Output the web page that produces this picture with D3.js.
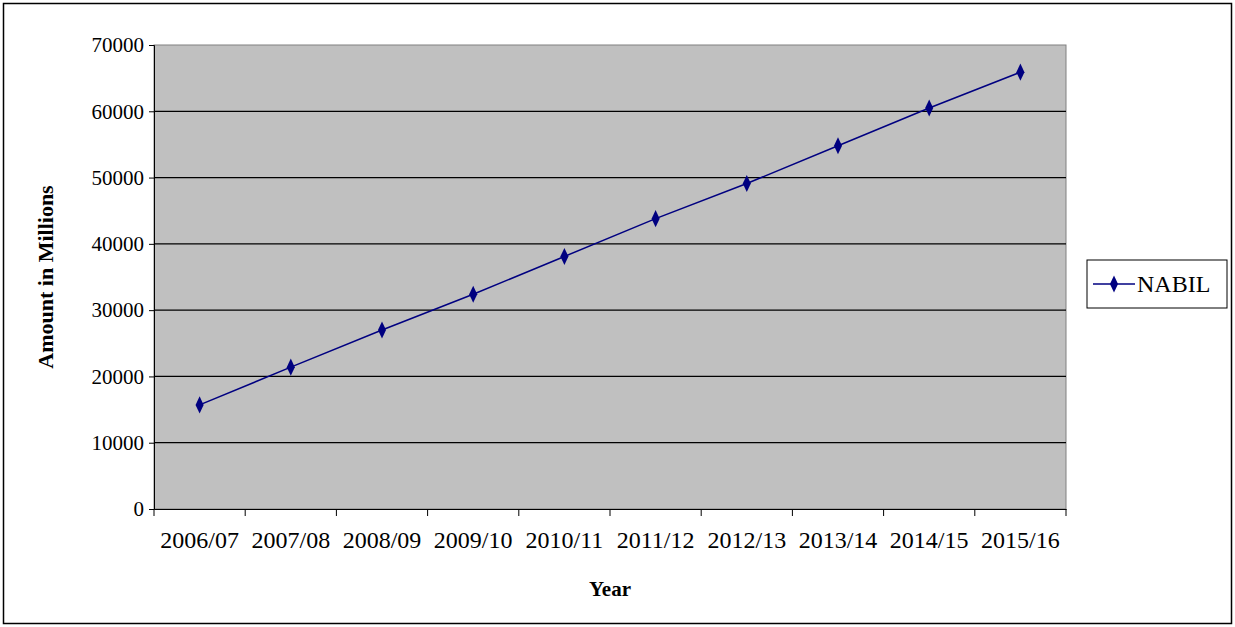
<!DOCTYPE html>
<html><head><meta charset="utf-8">
<script src="https://cdn.jsdelivr.net/npm/d3@7"></script>
<style>body{margin:0;background:#fff}text{font-family:"Liberation Serif","Times New Roman",serif;fill:#000}</style>
</head><body>
<script>
// chart data
var years = ["2006/07","2007/08","2008/09","2009/10","2010/11","2011/12","2012/13","2013/14","2014/15","2015/16"];
var nabil = [15700,21400,27000,32400,38100,43800,49100,54800,60500,65900];
var yTicks = [0,10000,20000,30000,40000,50000,60000,70000];

var W = 1235, H = 627;
var plot = {left:154, top:45, right:1066, bottom:509};

var svg = d3.select("body").append("svg").attr("width", W).attr("height", H);
svg.append("rect").attr("x",3.5).attr("y",3.5).attr("width",W-7).attr("height",H-7)
	.attr("fill","#fff").attr("stroke","#000").attr("stroke-width",1.5);

var x = d3.scaleBand().domain(years).range([plot.left, plot.right]);
var y = d3.scaleLinear().domain([0,70000]).range([plot.bottom, plot.top]);

svg.append("rect").attr("x",plot.left).attr("y",plot.top)
	.attr("width",plot.right-plot.left).attr("height",plot.bottom-plot.top)
	.attr("fill","#c0c0c0").attr("stroke","#808080");

// gridlines
svg.append("g").selectAll("line").data(yTicks.slice(1,-1)).join("line")
	.attr("x1",plot.left).attr("x2",plot.right)
	.attr("y1",function(d){return y(d);}).attr("y2",function(d){return y(d);})
	.attr("stroke","#000").attr("stroke-width",1.3);

var yAxis = svg.append("g").attr("transform","translate("+plot.left+",0)")
	.call(d3.axisLeft(y).tickValues(yTicks).tickSize(5).tickFormat(d3.format("d")));
var xAxis = svg.append("g").attr("transform","translate(0,"+plot.bottom+")")
	.call(d3.axisBottom(x).tickSize(0).tickPadding(22));
// category ticks at band edges
xAxis.selectAll(".edge").data(years.concat(["end"])).join("line")
	.attr("x1",function(d,i){return plot.left + i*x.step();})
	.attr("x2",function(d,i){return plot.left + i*x.step();})
	.attr("y1",0).attr("y2",7).attr("stroke","#000");
[yAxis,xAxis].forEach(function(a){
	a.selectAll(".domain,.tick line").attr("stroke","#000");
});
yAxis.selectAll("text").attr("x",-10).style("font-size","21px").style("font-family","Liberation Serif");
xAxis.selectAll("text").style("font-size","24px").style("font-family","Liberation Serif");

var line = d3.line().x(function(d,i){return x(years[i]) + x.bandwidth()/2;}).y(function(d){return y(d);});
svg.append("path").datum(nabil).attr("d",line).attr("fill","none").attr("stroke","#000080").attr("stroke-width",1.5);
var diamond = d3.symbol().type(d3.symbolDiamond).size(70);
svg.append("g").selectAll("path").data(nabil).join("path")
	.attr("d",diamond)
	.attr("transform",function(d,i){return "translate("+(x(years[i])+x.bandwidth()/2)+","+y(d)+") scale(0.9,1.1)";})
	.attr("fill","#000080");

svg.append("text").attr("x",(plot.left+plot.right)/2).attr("y",596).attr("text-anchor","middle")
	.style("font-size","21px").style("font-weight","bold").text("Year");
svg.append("text").attr("transform","translate(53,"+((plot.top+plot.bottom)/2)+") rotate(-90)")
	.attr("text-anchor","middle").style("font-size","22px").style("font-weight","bold").text("Amount in Millions");

// legend
var lg = svg.append("g").attr("transform","translate(1087,260)");
lg.append("rect").attr("width",140).attr("height",48).attr("fill","#fff").attr("stroke","#000");
lg.append("line").attr("x1",6).attr("x2",48).attr("y1",24).attr("y2",24).attr("stroke","#000080").attr("stroke-width",1.5);
lg.append("path").attr("d",diamond).attr("transform","translate(27,24) scale(0.9,1.1)").attr("fill","#000080");
lg.append("text").attr("x",50).attr("y",32).style("font-size","24px").text("NABIL");
</script>
</body></html>
